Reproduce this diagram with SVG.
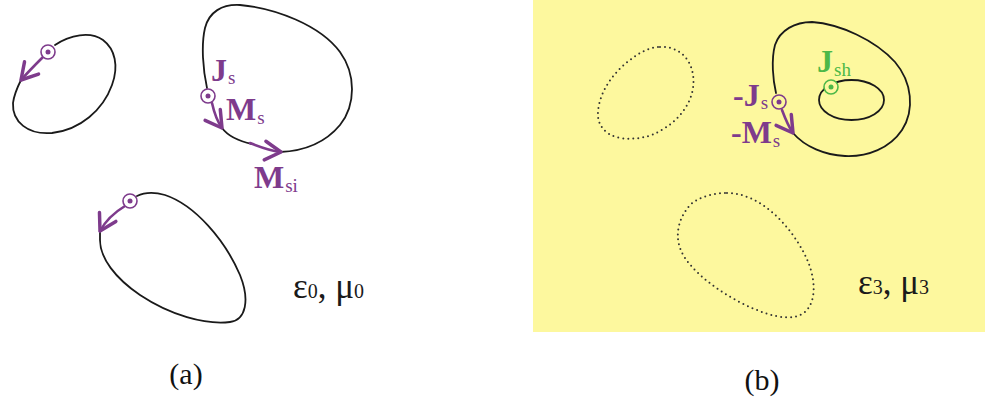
<svg xmlns="http://www.w3.org/2000/svg" width="985" height="403" viewBox="0 0 985 403">
<defs>
<style>
.curve{fill:none;stroke:#1a1a1a;stroke-width:1.8;stroke-linecap:round}
.dot{fill:none;stroke:#333;stroke-width:2;stroke-linecap:round;stroke-dasharray:0 5}
.arr{fill:none;stroke:#7E3B8C;stroke-width:2.6;stroke-linecap:round;marker-end:url(#chev)}
.ringp{stroke:#7E3B8C;stroke-width:1.6}
.ringg{stroke:#4DB848;stroke-width:1.6}
.lbl{font-family:"Liberation Serif",serif;font-weight:bold;font-size:32px;fill:#7E3B8C}
.sub{font-weight:normal;font-size:19px}
.med{font-family:"Liberation Serif",serif;font-size:35px;fill:#1a1a1a}
.cap{font-family:"Liberation Serif",serif;font-size:30px;fill:#111;text-anchor:middle}
</style>
<marker id="chev" markerUnits="userSpaceOnUse" markerWidth="24" markerHeight="24" viewBox="-14 -9 16 18" refX="0" refY="0" orient="auto">
<path d="M -12 -7 L 0 0 L -12 7" fill="none" stroke="#7E3B8C" stroke-width="2.6" stroke-linecap="round" stroke-linejoin="round"/>
</marker>
</defs>
<rect x="533" y="0" width="452" height="332" fill="#FDF89E"/>

<g id="loop-a1">
<path class="curve" d="M 55 45 C 70 35, 90 31, 103 40 C 115 49, 119 66, 112 85 C 103 110, 80 130, 52 133 C 28 135, 12 122, 13 103 C 14 95, 17 88, 21 80"/>
</g>
<g id="loop-a2">
<path class="curve" d="M 207 88 C 203 70, 201 45, 205 28 C 209 12, 222 4, 240 5 C 275 8, 320 25, 340 52 C 356 74, 356 105, 340 125 C 325 143, 305 151, 280 152"/>
<path class="curve" d="M 222 128 C 228 136, 238 141, 252 144"/>
</g>
<g id="loop-a3">
<path class="curve" d="M 137 196 C 145 192, 155 192, 165 195 C 195 205, 225 240, 240 275 C 250 300, 246 320, 230 322 C 205 325, 170 315, 140 295 C 115 278, 100 258, 100 240 C 100 236, 100 233, 100 231"/>
</g>
<g id="loop-b1">
<path class="dot" d="M 660 47 C 675 46, 690 55, 693 75 C 696 95, 685 115, 665 128 C 650 138, 635 140, 620 138 C 605 135, 597 125, 598 112 C 599 95, 610 75, 630 60 C 640 52, 650 47, 660 47 Z"/>
</g>
<g id="loop-b2">
<path class="dot" d="M 727 193 C 760 193, 790 225, 805 255 C 815 275, 818 300, 805 312 C 795 320, 780 318, 765 313 C 735 303, 700 280, 685 258 C 673 240, 677 220, 690 205 C 700 196, 715 193, 727 193 Z"/>
</g>
<g id="loop-b3">
<path class="curve" d="M 776 93 C 773 80, 771 60, 775 45 C 780 30, 795 22, 812 22 C 840 24, 875 40, 895 62 C 912 82, 915 110, 902 130 C 890 148, 868 157, 845 156 C 825 155, 805 147, 793 133"/>
<ellipse class="curve" cx="851.5" cy="100" rx="32.5" ry="20"/>
</g>

<g id="connectors">
<path class="arr" d="M 43 57 C 36 64, 28 72, 21 80"/>
<path class="arr" d="M 212 103 C 214 112, 217 121, 222 128"/>
<path class="arr" d="M 250 143 C 260 147, 270 151, 281 152"/>
<path class="arr" d="M 125 206 C 115 212, 106 220, 100 231"/>
<path class="arr" d="M 782 110 C 785 118, 788 126, 793 133"/>
</g>

<g id="sources">
<circle class="ringp" cx="48" cy="52" r="7" fill="#fff"/><circle cx="48" cy="52" r="2.5" fill="#7E3B8C"/>
<circle class="ringp" cx="208" cy="96" r="7" fill="#fff"/><circle cx="208" cy="96" r="2.5" fill="#7E3B8C"/>
<circle class="ringp" cx="130" cy="201" r="7" fill="#fff"/><circle cx="130" cy="201" r="2.5" fill="#7E3B8C"/>
<circle class="ringp" cx="779" cy="102" r="7" fill="#FDF89E"/><circle cx="779" cy="102" r="2.5" fill="#7E3B8C"/>
<circle class="ringg" cx="831" cy="87" r="7" fill="#FDF89E"/><circle cx="831" cy="87" r="2.5" fill="#4DB848"/>
</g>

<g id="labels">
<text class="lbl" x="211" y="81">J<tspan class="sub" dx="1" dy="3">s</tspan></text>
<text class="lbl" x="226" y="120">M<tspan class="sub" dx="1" dy="4">s</tspan></text>
<text class="lbl" x="254" y="188">M<tspan class="sub" dx="1" dy="4">si</tspan></text>
<text class="lbl" x="733" y="106">-J<tspan class="sub" dx="1" dy="3">s</tspan></text>
<text class="lbl" x="731" y="143">-M<tspan class="sub" dx="1" dy="4">s</tspan></text>
<text class="lbl" x="817" y="72" style="fill:#4DB848">J<tspan class="sub" dx="1" dy="4">sh</tspan></text>
<text class="med" x="293" y="298">ε<tspan font-size="20" dy="0">0</tspan>, μ<tspan font-size="20">0</tspan></text>
<text class="med" x="858" y="294">ε<tspan font-size="20" dy="0">3</tspan>, μ<tspan font-size="20">3</tspan></text>
<text class="cap" x="186" y="384">(a)</text>
<text class="cap" x="762" y="390">(b)</text>
</g>
</svg>
